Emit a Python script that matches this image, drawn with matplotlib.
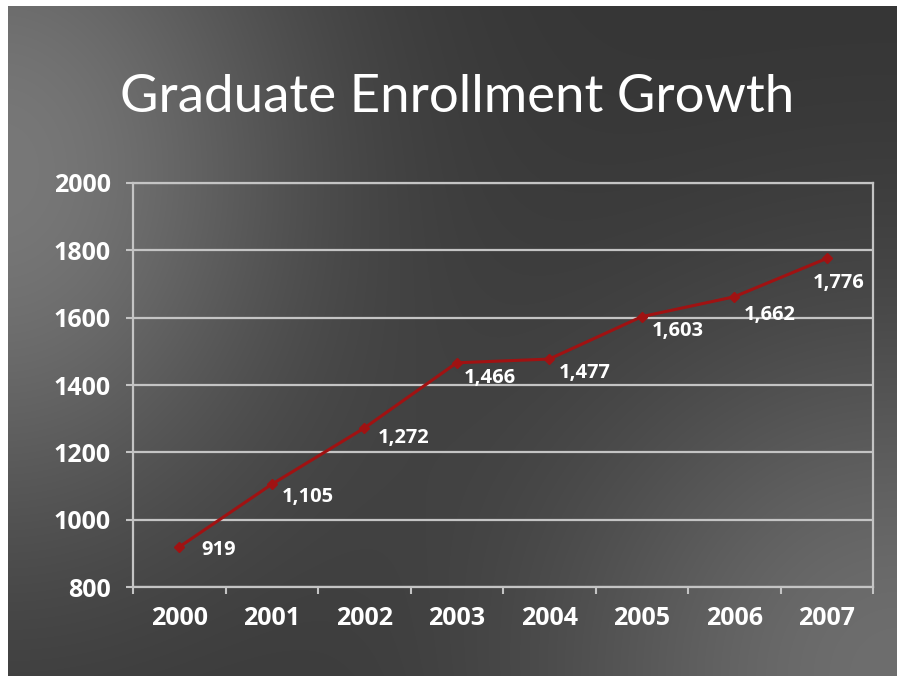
import numpy as np
import matplotlib
matplotlib.use("Agg")
import matplotlib.pyplot as plt

years = ["2000", "2001", "2002", "2003", "2004", "2005", "2006", "2007"]
enrollment = [919, 1105, 1272, 1466, 1477, 1603, 1662, 1776]
value_labels = ["919", "1,105", "1,272", "1,466", "1,477", "1,603", "1,662", "1,776"]
y_ticks = [800, 1000, 1200, 1400, 1600, 1800, 2000]

# label offsets in points (style only)
label_offsets = [(16, -2), (7, -9), (10, -7), (5, -11), (7, -10), (7, -10), (7, -13), (-10, -18)]

W, H = 897, 676
fig = plt.figure(figsize=(W / 100, H / 100), dpi=100, facecolor="white")

# background gradient
yy, xx = np.mgrid[0:H, 0:W].astype(float)
d1 = ((xx - 0) / 1.0) ** 2 + ((yy - 170) / 1.25) ** 2
d2 = (xx - 897) ** 2 + (yy - 676) ** 2
v = 52 + 68 * np.exp(-d1 / (2 * 220 ** 2)) + 58 * np.exp(-d2 / (2 * 260 ** 2))
v = np.clip(v, 0, 255) / 255.0
img = np.dstack([v, v, v])
bg = fig.add_axes([8 / W, 0, (W - 9) / W, (H - 6) / H])
bg.imshow(img[6:, 8:W - 1], aspect="auto", extent=[0, 1, 0, 1])
bg.axis("off")

fig.text(457 / W, 1 - 97 / H, "Graduate Enrollment Growth", ha="center", va="center",
         color="white", fontsize=38, family=["Lato", "DejaVu Sans"])

num_font = ["Open Sans", "DejaVu Sans"]
ax = fig.add_axes([133 / W, 1 - 587 / H, 740 / W, 404 / H])
ax.set_facecolor("none")
x = np.arange(len(years))
grid_c = "#c4c4c4"
ax.set_xlim(-0.5, len(years) - 0.5)
ax.set_ylim(800, 2000)
ax.set_yticks(y_ticks)
ax.set_yticklabels([str(t) for t in y_ticks], fontsize=18, fontweight="bold", family=num_font, color="white")
ax.yaxis.grid(True, color=grid_c, linewidth=1.6)
ax.set_axisbelow(True)
ax.set_xticks(x)
ax.set_xticklabels(years, fontsize=18, fontweight="bold", family=num_font, color="white")
ax.set_xticks(np.arange(-0.5, len(years), 1.0), minor=True)
ax.tick_params(axis="x", which="major", length=0, pad=14)
ax.tick_params(axis="x", which="minor", length=5, width=1.5, color=grid_c, direction="out")
ax.tick_params(axis="y", length=5, width=1.5, color=grid_c, direction="out", pad=11)
for s in ax.spines.values():
    s.set_color(grid_c)
    s.set_linewidth(1.6)

ax.plot(x, enrollment, color="#a01212", linewidth=2.2, marker="D", markersize=5,
        markerfacecolor="#a01212", markeredgecolor="#a01212", zorder=5)
for xi, yi, lab, off in zip(x, enrollment, value_labels, label_offsets):
    ax.annotate(lab, (xi, yi), xytext=off, textcoords="offset points", ha="left", va="center",
                color="white", fontsize=14.5, fontweight="bold", family=num_font, zorder=6)

fig.savefig("out.png", dpi=100, facecolor="white")
